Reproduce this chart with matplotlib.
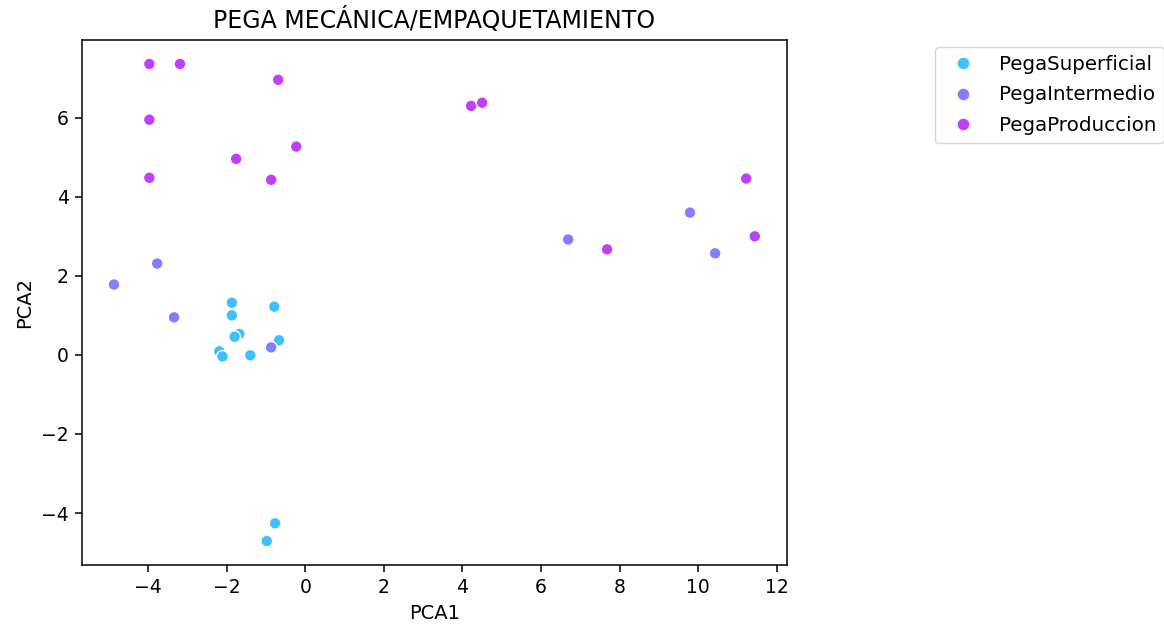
import matplotlib
matplotlib.use("Agg")
import matplotlib.pyplot as plt
import seaborn as sns
import pandas as pd

# PCA scores per stuck-pipe class
sup_x = [-1.87, -1.87, -1.68, -1.80, -0.79, -0.67, -2.19, -2.11, -1.40, -0.77, -0.98]
sup_y = [1.32, 1.00, 0.53, 0.46, 1.22, 0.37, 0.09, -0.04, -0.01, -4.26, -4.71]

int_x = [-4.87, -3.77, -3.34, -0.87, 6.69, 9.79, 10.43]
int_y = [1.78, 2.31, 0.95, 0.19, 2.92, 3.60, 2.57]

prod_x = [-3.97, -3.19, -0.69, -3.97, -3.97, -1.76, -0.23, -0.87, 4.22, 4.50, 11.22, 11.44, 7.68]
prod_y = [7.36, 7.36, 6.96, 5.95, 4.48, 4.96, 5.27, 4.43, 6.30, 6.38, 4.46, 3.00, 2.67]

classes = ["PegaSuperficial", "PegaIntermedio", "PegaProduccion"]

df = pd.DataFrame({
    "PCA1": sup_x + int_x + prod_x,
    "PCA2": sup_y + int_y + prod_y,
    "clase": [classes[0]] * len(sup_x) + [classes[1]] * len(int_x) + [classes[2]] * len(prod_x),
})

fig = plt.figure(figsize=(11.64, 6.27), dpi=100)
ax = fig.add_axes([0.0704, 0.099, 0.6056, 0.837])

sns.scatterplot(data=df, x="PCA1", y="PCA2", hue="clase", hue_order=classes,
                palette="cool", s=72, linewidth=1.0, ax=ax)

ax.set_title("PEGA MECÁNICA/EMPAQUETAMIENTO", fontsize=17, pad=9)
ax.set_xlabel("PCA1", fontsize=14, labelpad=5)
ax.set_ylabel("PCA2", fontsize=14, labelpad=5)
ax.tick_params(labelsize=13.5, length=5, width=1.1, pad=4.5)
for sp in ax.spines.values():
    sp.set_linewidth(1.1)
ax.set_xticks([-4, -2, 0, 2, 4, 6, 8, 10, 12])

ax.legend(loc="upper left", bbox_to_anchor=(935 / 1164, 1 - 47 / 627),
          bbox_transform=fig.transFigure, borderaxespad=0, fontsize=14.3,
          markerscale=1.1, labelspacing=0.58)

fig.savefig("out.png", dpi=100)
